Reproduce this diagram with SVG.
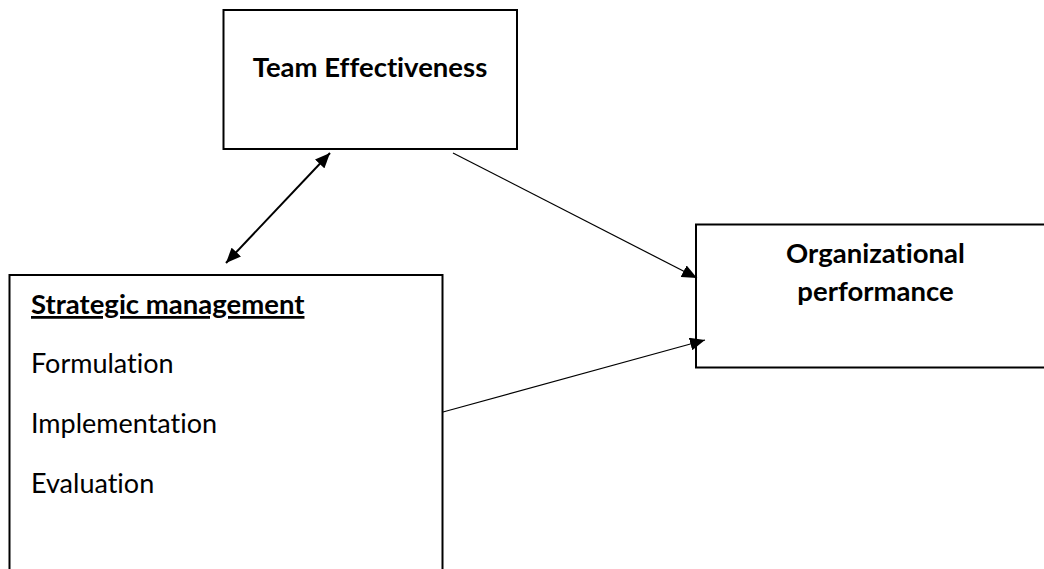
<svg xmlns="http://www.w3.org/2000/svg" width="1044" height="569" viewBox="0 0 1044 569">
<style>
.box{fill:#fff;stroke:#000;stroke-width:2}
.t{font-family:Lato,"Open Sans","Liberation Sans",sans-serif;fill:#000;font-variant-ligatures:none}
.b{font-weight:bold;font-size:27.5px}
.r{font-size:27px}
.c{stroke:#000;fill:none}
</style>
<defs>
<marker id="ah" viewBox="0 0 15 13" refX="15" refY="6.5" markerWidth="15" markerHeight="13" markerUnits="userSpaceOnUse" orient="auto-start-reverse">
<path d="M0,0 L15,6.5 L0,13 z" fill="#000"/>
</marker>
</defs>
<rect width="1044" height="569" fill="#fff"/>
<g id="team">
<rect class="box" x="223.5" y="10" width="293.5" height="139"/>
<text class="t b" x="370" y="77" text-anchor="middle">Team Effectiveness</text>
</g>
<g id="org">
<rect class="box" x="696" y="224.5" width="370" height="143"/>
<text class="t b" x="875.5" y="263" text-anchor="middle">Organizational</text>
<text class="t b" x="875.5" y="301" text-anchor="middle">performance</text>
</g>
<g id="strategic">
<rect class="box" x="9.5" y="275" width="433" height="310"/>
<text class="t b" x="31" y="314" font-size="26.9" text-decoration="underline">Strategic management</text>
<text class="t r" x="31" y="373">Formulation</text>
<text class="t r" x="31" y="433">Implementation</text>
<text class="t r" x="31" y="493">Evaluation</text>
</g>
<g id="connectors">
<line class="c" x1="226" y1="263" x2="330" y2="153" stroke-width="2" marker-start="url(#ah)" marker-end="url(#ah)"/>
<line class="c" x1="453" y1="153" x2="697" y2="278" stroke-width="1.2" marker-end="url(#ah)"/>
<line class="c" x1="443" y1="412" x2="705" y2="340" stroke-width="1.2" marker-end="url(#ah)"/>
</g>
</svg>
